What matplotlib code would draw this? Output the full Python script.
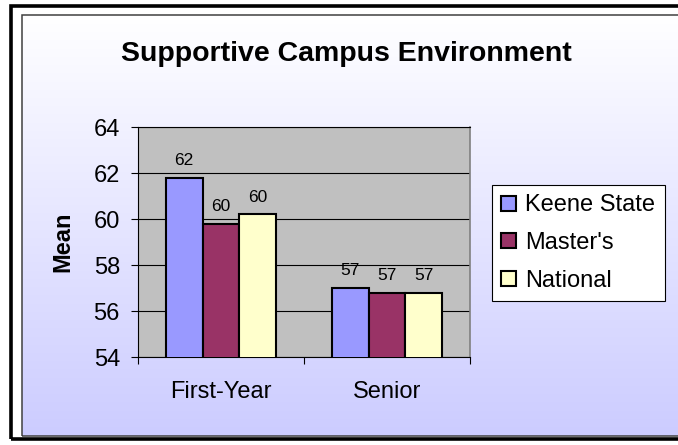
import numpy as np
import matplotlib
matplotlib.use("Agg")
from matplotlib import pyplot as plt
from matplotlib.patches import Rectangle
from matplotlib.colors import LinearSegmentedColormap

plt.rcParams['font.family'] = ['Liberation Sans', 'DejaVu Sans']

# data
categories = ['First-Year', 'Senior']
series = ['Keene State', "Master's", 'National']
keene = [61.8, 57.0]
masters = [59.8, 56.8]
national = [60.2, 56.8]
colors = ['#9999FF', '#993366', '#FFFFCC']

W, H = 678, 445


def fx(x):
    return x / W


def fy(y):
    return 1 - y / H


fig = plt.figure(figsize=(W / 100, H / 100), dpi=100)
fig.patch.set_facecolor('white')

# chart area with white -> lavender gradient
left, top, bottom = 21.5, 15.0, 436.0
bg = fig.add_axes([fx(left), fy(bottom), 1 - fx(left) + 0.02, fy(top) - fy(bottom)], zorder=-2)
grad = np.linspace(0, 1, 256).reshape(-1, 1)
cmap = LinearSegmentedColormap.from_list('bg', ['#FFFFFF', '#CCCCFF'])
bg.imshow(grad, aspect='auto', cmap=cmap, extent=[0, 1, 1, 0])
bg.set_axis_off()

fig.patches.append(Rectangle((fx(left), fy(bottom)), 1.1, fy(top) - fy(bottom),
                             transform=fig.transFigure, fill=False,
                             edgecolor='#404040', linewidth=1.1, zorder=5))
fig.patches.append(Rectangle((fx(10.8), fy(439.2)), 1.1, fy(5.5) - fy(439.2),
                             transform=fig.transFigure, fill=False,
                             edgecolor='black', linewidth=2.6, zorder=4))

# plot area
ax = fig.add_axes([fx(138), fy(357), (470 - 138) / W, (357 - 127) / H])
ax.set_facecolor('#C0C0C0')

x = np.arange(len(categories))
w = 1 / 4.5
for i, (vals, name, c) in enumerate(zip([keene, masters, national], series, colors)):
    bars = ax.bar(x + (i - 1) * w, vals, width=w, color=c, edgecolor='black',
                  linewidth=1.5, label=name, zorder=3)
    ax.bar_label(bars, fmt='%.0f', padding=7, fontsize=12.5)

ax.set_xlim(-0.5, 1.5)
ax.set_ylim(54, 64)
ax.set_yticks(np.arange(54, 65, 2))
ax.yaxis.grid(True, color='black', linewidth=0.8, zorder=1)
ax.set_axisbelow(True)

ax.set_xticks(x)
ax.set_xticklabels(categories, fontsize=17)
ax.set_xticks([-0.5, 0.5, 1.5], minor=True)
ax.tick_params(axis='x', which='major', length=0, pad=17)
ax.tick_params(axis='x', which='minor', length=5, width=0.8, direction='out')
ax.tick_params(axis='y', labelsize=17, length=5, width=0.8, direction='out', pad=8)

for s in ['left', 'bottom', 'top']:
    ax.spines[s].set_color('black')
    ax.spines[s].set_linewidth(0.8)
ax.spines['right'].set_color('#808080')
ax.spines['right'].set_linewidth(1.2)

fig.text(fx(63), fy(242), 'Mean', rotation=90, ha='center', va='center',
         fontsize=17, fontweight='bold')
fig.text(fx(346), fy(61), 'Supportive Campus Environment', ha='center',
         va='baseline', fontsize=20.5, fontweight='bold')

leg = fig.legend(loc='upper left', bbox_to_anchor=(fx(492), fy(185)),
                 borderaxespad=0, fontsize=17, frameon=True, fancybox=False,
                 edgecolor='black', facecolor='white', framealpha=1,
                 handlelength=0.6, handleheight=0.6, handletextpad=0.4,
                 labelspacing=0.66, borderpad=0.4)
leg.get_frame().set_linewidth(0.8)

fig.savefig('out.png', dpi=100)
